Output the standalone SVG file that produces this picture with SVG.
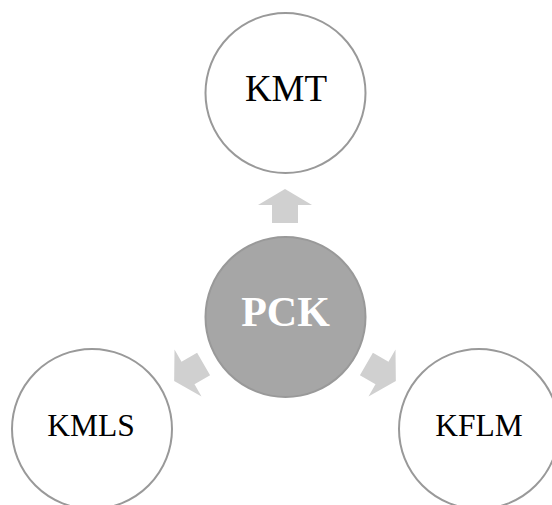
<svg xmlns="http://www.w3.org/2000/svg" width="552" height="505" viewBox="0 0 552 505">
<style>
.outer{fill:#ffffff;stroke:#999999;stroke-width:2}
.center{fill:#a6a6a6;stroke:#999999;stroke-width:2}
.arrow{fill:#d0d0d0;stroke:none}
.lbl{font-family:"Liberation Serif","Times New Roman",serif;fill:#000000;text-anchor:middle}
.clbl{font-family:"Liberation Serif","Times New Roman",serif;fill:#ffffff;font-weight:bold;text-anchor:middle}
</style>
<defs>
<polygon id="arr" points="0,-128 27,-112 13,-112 13,-94 -13,-94 -13,-112 -27,-112"/>
</defs>
<rect width="552" height="505" fill="#ffffff"/>
<g id="connectors" transform="translate(285,317)">
<use href="#arr" class="arrow"/>
<use href="#arr" class="arrow" transform="rotate(120)"/>
<use href="#arr" class="arrow" transform="rotate(240)"/>
</g>
<g id="node-pck">
<circle class="center" cx="285.5" cy="317" r="80"/>
<text class="clbl" x="285.5" y="326" font-size="42">PCK</text>
</g>
<g id="node-kmt">
<circle class="outer" cx="285.5" cy="93" r="80"/>
<text class="lbl" x="286" y="101" font-size="37">KMT</text>
</g>
<g id="node-kmls">
<circle class="outer" cx="92" cy="429" r="80"/>
<text class="lbl" x="91" y="436" font-size="31.5">KMLS</text>
</g>
<g id="node-kflm">
<circle class="outer" cx="479" cy="429" r="80"/>
<text class="lbl" x="479" y="436" font-size="31.5">KFLM</text>
</g>
</svg>
